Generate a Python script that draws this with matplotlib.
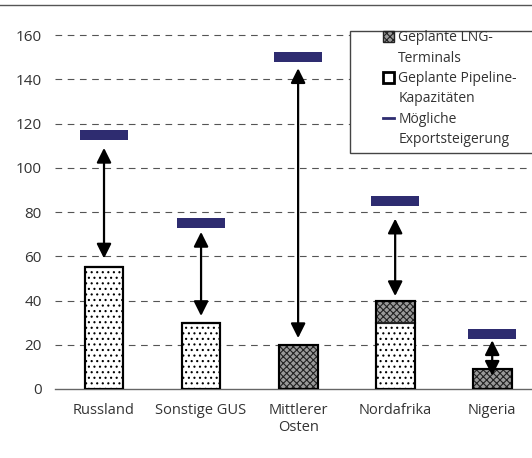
import matplotlib
matplotlib.use('Agg')
import matplotlib.pyplot as plt
from matplotlib.patches import Patch, Rectangle
from matplotlib.lines import Line2D

plt.rcParams['font.family'] = ['Open Sans', 'DejaVu Sans']
plt.rcParams['font.size'] = 10.5
plt.rcParams['hatch.linewidth'] = 0.8

# data
regions = ['Russland', 'Sonstige GUS', 'Mittlerer\nOsten', 'Nordafrika', 'Nigeria']
pipeline = [55, 30, 0, 30, 0]
lng = [0, 0, 20, 10, 9]
export = [115, 75, 150, 85, 25]
arrow_lo = [59, 33, 23, 42, 6]
arrow_hi = [109, 71, 145, 77, 22]
yticks = [0, 20, 40, 60, 80, 100, 120, 140, 160]

navy = '#2e2c70'
lng_face = '#9a9a9a'
txt = '#333333'

fig = plt.figure(figsize=(5.32, 4.58), dpi=100)
ax = fig.add_axes([0.1043, 0.1507, 0.8957, 0.821])

x = list(range(len(regions)))
ax.bar(x, pipeline, width=0.4, color='white', edgecolor='black', linewidth=1.5, hatch='...', zorder=3)
ax.bar(x, lng, width=0.4, bottom=pipeline, color=lng_face, edgecolor='#222222', linewidth=1.5,
       hatch='xxxxx', zorder=3)
# outline in black on top of the hatch colour
ax.bar(x, [p + l for p, l in zip(pipeline, lng)], width=0.4, color='none', edgecolor='black',
       linewidth=1.5, zorder=4)
ax.bar(x, [4.5] * len(x), width=0.5, bottom=[e - 2.25 for e in export], color=navy, zorder=3)

for i in x:
    ax.annotate('', xy=(i, arrow_hi[i]), xytext=(i, arrow_lo[i]),
                arrowprops=dict(arrowstyle='<|-|>', color='black', lw=1.6, mutation_scale=22,
                                shrinkA=0, shrinkB=0), zorder=5)

ax.set_xlim(-0.5, 4.41)
ax.set_ylim(0, 170)
ax.set_yticks(yticks)
ax.set_xticks(x)
ax.set_xticklabels(regions, color=txt)
ax.tick_params(axis='y', length=0, pad=10, labelcolor=txt, labelsize=11)
ax.tick_params(axis='x', length=0, pad=10)
for y in yticks[1:]:
    ax.axhline(y, color='#555555', lw=0.8, dashes=(6, 5), zorder=1)
for s in ['top', 'right', 'left']:
    ax.spines[s].set_visible(False)
ax.spines['bottom'].set_color('#666666')
ax.spines['bottom'].set_linewidth(1)

# top rule across the whole figure
fig.add_artist(Line2D([0, 1], [0.989, 0.989], color='#555555', lw=1))

# legend box (runs off the right edge like the original)
fig.add_artist(Rectangle((0.658, 0.666), 0.4, 0.2664, transform=fig.transFigure,
                         facecolor='white', edgecolor='#444444', lw=1, zorder=10))

blank = Patch(facecolor='none', edgecolor='none')
handles = [Patch(facecolor=lng_face, edgecolor='#222222', hatch='xxxxx', lw=1), blank,
           Patch(facecolor='white', edgecolor='black', lw=2), blank,
           Line2D([], [], color=navy, lw=2), blank]
labels = ['Geplante LNG-', 'Terminals', 'Geplante Pipeline-', 'Kapazitäten',
          'Mögliche', 'Exportsteigerung']
leg = fig.legend(handles, labels, loc='upper left', bbox_to_anchor=(0.72, 0.934),
                 frameon=False, fontsize=10,
                 handlelength=0.8, handleheight=0.8, handletextpad=0.3, labelspacing=0.39,
                 borderpad=0, borderaxespad=0, labelcolor=txt)
leg.set_zorder(11)

fig.savefig('out.png', dpi=100)
